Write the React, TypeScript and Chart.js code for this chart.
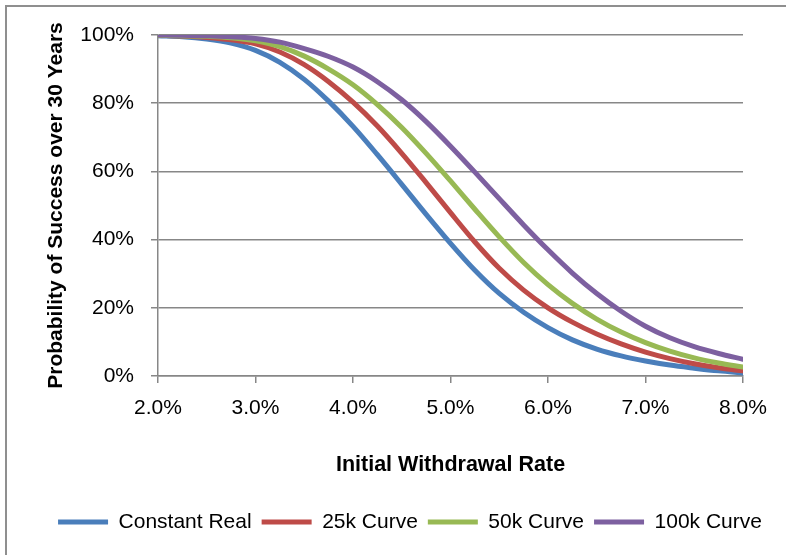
import React, { useEffect, useRef } from "react";
import { Chart, registerables } from "chart.js";

Chart.register(...registerables);

const rates = [2.0, 2.25, 2.5, 2.75, 3.0, 3.25, 3.5, 3.75, 4.0, 4.25, 4.5, 4.75, 5.0, 5.25, 5.5, 5.75, 6.0, 6.25, 6.5, 6.75, 7.0, 7.25, 7.5, 7.75, 8.0];

const constantReal = [99.8, 99.5, 98.8, 97.6, 95.5, 92.0, 87.0, 80.6, 73.2, 64.9, 56.2, 47.4, 38.9, 31.0, 24.2, 18.7, 14.2, 10.6, 7.9, 5.9, 4.4, 3.2, 2.3, 1.5, 0.9];
const curve25k = [99.9, 99.7, 99.3, 98.6, 97.4, 95.0, 91.3, 86.3, 80.3, 73.3, 65.3, 56.7, 47.9, 39.3, 31.6, 25.2, 20.0, 15.8, 12.3, 9.4, 7.0, 5.1, 3.6, 2.4, 1.5];
const curve50k = [99.9, 99.8, 99.6, 99.2, 98.3, 96.6, 93.8, 90.0, 85.4, 79.6, 72.9, 65.3, 57.2, 48.9, 40.8, 33.3, 26.8, 21.3, 16.7, 12.9, 9.8, 7.3, 5.3, 3.8, 2.6];
const curve100k = [100, 99.9, 99.8, 99.5, 99.0, 97.9, 96.0, 93.7, 90.6, 86.3, 81.0, 74.6, 67.4, 59.8, 52.0, 44.3, 37.0, 30.2, 24.2, 19.0, 14.6, 11.2, 8.6, 6.6, 4.9];

const seriesNames = ["Constant Real", "25k Curve", "50k Curve", "100k Curve"];
const seriesValues = [constantReal, curve25k, curve50k, curve100k];
const seriesColors = ["#4A7EBB", "#BE4B48", "#98B954", "#7D60A0"];

const xTickLabels = ["2.0%", "3.0%", "4.0%", "5.0%", "6.0%", "7.0%", "8.0%"];
const yTickLabels = ["0%", "20%", "40%", "60%", "80%", "100%"];

const xTitle = "Initial Withdrawal Rate";
const yTitle = "Probability of Success over 30 Years";

const FONT = "'Liberation Sans', Arial, sans-serif";
const FS = 21;
const GRID = "#878787";

export default function App() {
  const ref = useRef<HTMLCanvasElement | null>(null);

  useEffect(() => {
    if (!ref.current) return;
    const datasets = seriesNames.map((name, i) => ({
      label: name,
      data: rates.map((r, j) => ({ x: r, y: seriesValues[i][j] })),
      borderColor: seriesColors[i],
      backgroundColor: seriesColors[i],
      borderWidth: 5,
      borderCapStyle: "round" as const,
      borderJoinStyle: "round" as const,
      pointRadius: 0,
      pointHoverRadius: 0,
      cubicInterpolationMode: "monotone" as const,
      fill: false,
      order: seriesNames.length - i,
      yAxisID: "y",
    }));

    const chart = new Chart(ref.current, {
      type: "line",
      data: { datasets },
      options: {
        animation: false,
        responsive: false,
        maintainAspectRatio: false,
        color: "#000",
        layout: { padding: { left: 40, right: 6, top: 35, bottom: 12.5 } },
        plugins: {
          tooltip: { enabled: false },
          legend: {
            position: "bottom",
            align: "center",
            labels: {
              usePointStyle: true,
              pointStyle: "line",
              pointStyleWidth: 50,
              padding: 10,
              color: "#000",
              font: { family: FONT, size: FS },
              sort: (a: any, b: any) => a.datasetIndex - b.datasetIndex,
            },
          },
        },
        scales: {
          x: {
            type: "linear",
            min: 2,
            max: 8,
            afterFit: (scale: any) => {
              scale.height = 125.5;
            },
            ticks: {
              stepSize: 1,
              autoSkip: false,
              maxRotation: 0,
              padding: 13,
              color: "#000",
              font: { family: FONT, size: FS },
              callback: (_v: any, idx: number) => xTickLabels[idx],
            },
            grid: {
              drawOnChartArea: false,
              drawTicks: true,
              tickLength: 7,
              color: GRID,
              lineWidth: 1.5,
            },
            border: { display: true, color: GRID, width: 1.5 },
            title: {
              display: true,
              text: xTitle,
              color: "#000",
              font: { family: FONT, size: 21.5, weight: "bold" },
              padding: { top: 0, bottom: 24 },
            },
          },
          y: {
            type: "linear",
            position: "left",
            min: 0,
            max: 100,
            afterFit: (scale: any) => {
              scale.width = 118;
            },
            ticks: {
              stepSize: 20,
              padding: 17,
              color: "#000",
              font: { family: FONT, size: FS },
              callback: (_v: any, idx: number) => yTickLabels[idx],
            },
            grid: {
              drawTicks: true,
              tickLength: 7,
              color: GRID,
              lineWidth: 1.5,
            },
            border: { display: true, color: GRID, width: 1.5 },
            title: {
              display: true,
              text: yTitle,
              color: "#000",
              font: { family: FONT, size: 21, weight: "bold" },
              padding: { top: 3.4, bottom: 0 },
            },
          },
          yRight: {
            type: "linear",
            position: "right",
            min: 0,
            max: 100,
            afterFit: (scale: any) => {
              scale.width = 37;
            },
            ticks: { display: false },
            grid: { display: false, drawOnChartArea: false },
            border: { display: false },
          },
        },
      },
    });
    return () => chart.destroy();
  }, []);

  return (
    <div
      style={{
        position: "absolute",
        left: 0,
        top: 0,
        width: 786,
        height: 555,
        overflow: "hidden",
        background: "#fff",
      }}
    >
      <div
        style={{
          position: "absolute",
          left: 5,
          top: 5,
          width: 820,
          height: 600,
          borderTop: "2px solid #8f8f8f",
          borderLeft: "2px solid #8f8f8f",
        }}
      />
      <canvas
        ref={ref}
        width={786}
        height={555}
        style={{ position: "absolute", left: 0, top: 0, display: "block" }}
      />
    </div>
  );
}
